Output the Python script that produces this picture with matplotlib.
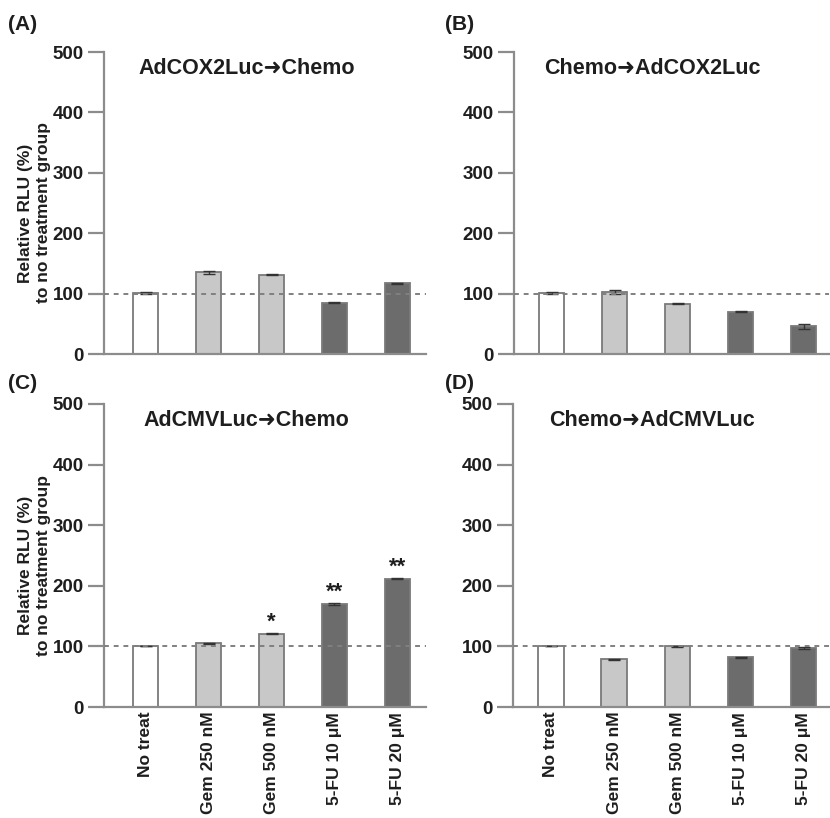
import matplotlib
matplotlib.use("Agg")
import matplotlib.pyplot as plt

categories = ["No treat", "Gem 250 nM", "Gem 500 nM", "5-FU 10 \u03bcM", "5-FU 20 \u03bcM"]

vals_a = [101, 135, 131, 85, 117]
err_a = [1, 2, 1, 1, 1]
vals_b = [101, 103, 83, 70, 46]
err_b = [1, 3, 1, 1, 4]
vals_c = [100, 105, 121, 170, 212]
err_c = [0, 1, 1, 1, 1]
vals_d = [100, 79, 100, 82, 97]
err_d = [0, 1, 1, 1, 2]

stars_c = ["", "", "*", "**", "**"]

titles = ["AdCOX2Luc\u279cChemo", "Chemo\u279cAdCOX2Luc",
          "AdCMVLuc\u279cChemo", "Chemo\u279cAdCMVLuc"]
letters = ["(A)", "(B)", "(C)", "(D)"]

bar_colors = ["white", "#c8c8c8", "#c8c8c8", "#6c6c6c", "#6c6c6c"]
edge = "#7a7a7a"
axcol = "#8c8c8c"
txt = "#1e1e1e"

plt.rcParams['font.family'] = ['Liberation Sans', 'DejaVu Sans']
plt.rcParams['font.weight'] = 'bold'

fig = plt.figure(figsize=(8.3, 8.18), dpi=100)
W, H = 830.0, 818.0

def px_axes(l, r, top, bot):
    return fig.add_axes([l / W, 1 - bot / H, (r - l) / W, (bot - top) / H])

specs = [
    (104, 426, 52, 354, (-0.667, 4.46), vals_a, err_a),
    (514, 829, 52, 354, (-0.6, 4.4), vals_b, err_b),
    (104, 426, 404, 707, (-0.667, 4.46), vals_c, err_c),
    (513, 829, 404, 707, (-0.6, 4.4), vals_d, err_d),
]

x = list(range(len(categories)))
for i, (l, r, t, b, xl, vals, errs) in enumerate(specs):
    ax = px_axes(l, r, t, b)
    ax.bar(x, vals, width=0.4, color=bar_colors, edgecolor=edge, linewidth=1.3,
           yerr=errs, capsize=4, error_kw=dict(ecolor="#333333", elinewidth=1, capthick=1), zorder=2)
    ax.axhline(100, color="#808080", linestyle=(0, (2.5, 2.5)), linewidth=1.4, zorder=3)
    ax.set_xlim(*xl)
    ax.set_ylim(0, 500)
    ax.set_yticks([0, 100, 200, 300, 400, 500])
    for s in ["top", "right"]:
        ax.spines[s].set_visible(False)
    for s in ["left", "bottom"]:
        ax.spines[s].set_color(axcol)
        ax.spines[s].set_linewidth(1.6)
    ax.tick_params(axis="y", length=11.5, width=1.6, color=axcol, labelsize=13.5,
                   labelcolor=txt, pad=3)
    ax.tick_params(axis="x", length=0)
    if i >= 2:
        ax.set_xticks(x)
        ax.set_xticklabels(categories, rotation=90, fontsize=12.5, color=txt,
                           fontweight="bold")
    else:
        ax.set_xticks([])
    for lab in ax.get_yticklabels():
        lab.set_fontweight("bold")
    ax.text(1.6, 472, titles[i], ha="center", va="center", fontsize=15.5,
            fontweight="bold", color=txt)
    if i % 2 == 0:
        ax.set_ylabel("Relative RLU (%)\nto no treatment group", fontsize=12.5,
                      fontweight="bold", color=txt, linespacing=1.25)
        ax.yaxis.set_label_coords(-0.165, 0.467)
    if i == 2:
        for xi, v, s in zip(x, vals, stars_c):
            if s:
                ax.text(xi, v + 2, s, ha="center", va="bottom", fontsize=16,
                        fontweight="bold", color=txt)

fig.text(8 / W, 1 - 24 / H, letters[0], fontsize=15, fontweight="bold", va="center", color=txt)
fig.text(445 / W, 1 - 24 / H, letters[1], fontsize=15, fontweight="bold", va="center", color=txt)
fig.text(8 / W, 1 - 384 / H, letters[2], fontsize=15, fontweight="bold", va="center", color=txt)
fig.text(445 / W, 1 - 384 / H, letters[3], fontsize=15, fontweight="bold", va="center", color=txt)

fig.savefig("out.png", dpi=100)
